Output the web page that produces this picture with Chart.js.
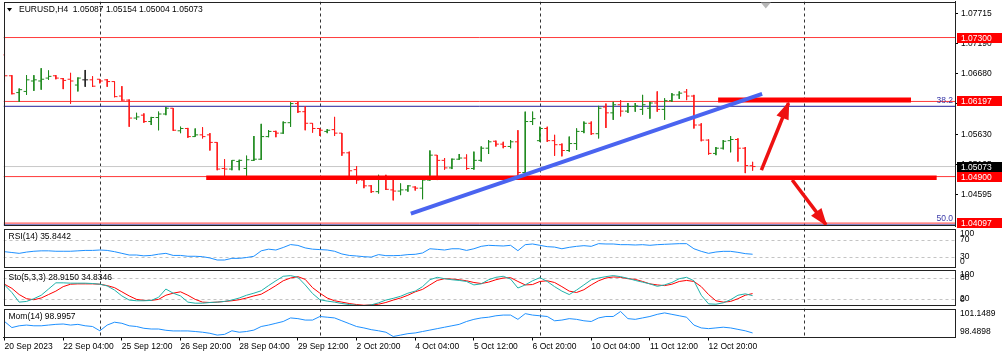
<!DOCTYPE html>
<html>
<head>
<meta charset="utf-8">
<script src="https://cdn.jsdelivr.net/npm/chart.js@4.4.0/dist/chart.umd.min.js"></script>
<style>
  html, body { margin: 0; padding: 0; background: #fff; }
  #wrap { position: relative; width: 1002px; height: 361px; overflow: hidden; background: #fff; }
  canvas { position: absolute; left: 0; }
</style>
</head>
<body>
<div id="wrap">
  <canvas id="mainChart" width="1002" height="229" style="top:0"></canvas>
  <canvas id="rsiChart" width="1002" height="47" style="top:224px"></canvas>
  <canvas id="stoChart" width="1002" height="45" style="top:265px"></canvas>
  <canvas id="momChart" width="1002" height="56" style="top:305px"></canvas>
</div>
<script>
// Dữ liệu nến H4 EURUSD
const opens = [1.0700,1.0664,1.0635,1.0637,1.0655,1.0655,1.0660,1.0664,1.0659,1.0658,
  1.0648,1.0657,1.0657,1.0658,1.0657,1.0654,1.0629,1.0622,1.0591,1.0596,
  1.0585,1.0592,1.0598,1.0608,1.0569,1.0573,1.0559,1.0562,1.0562,1.0549,
  1.0504,1.0503,1.0516,1.0504,1.0518,1.0520,1.0559,1.0568,1.0565,1.0583,
  1.0616,1.0602,1.0582,1.0573,1.0568,1.0571,1.0565,1.0531,1.0502,1.0484,
  1.0474,1.0464,1.0489,1.0467,1.0465,1.0467,1.0472,1.0470,1.0484,1.0527,
  1.0518,1.0505,1.0520,1.0522,1.0504,1.0518,1.0539,1.0551,1.0546,1.0542,
  1.0550,1.0497,1.0585,1.0552,1.0573,1.0552,1.0545,1.0535,1.0547,1.0568,
  1.0582,1.0564,1.0610,1.0600,1.0614,1.0603,1.0611,1.0606,1.0608,1.0617,
  1.0606,1.0621,1.0631,1.0636,1.0629,1.0579,1.0553,1.0530,1.0539,1.0552,
  1.0554,1.0539,1.05087];
const highs = [1.0731,1.0665,1.0642,1.0665,1.0665,1.0677,1.0673,1.0665,1.0660,1.0669,
  1.0661,1.0674,1.0663,1.0658,1.0658,1.0654,1.0646,1.0623,1.0600,1.0599,
  1.0593,1.0602,1.0610,1.0608,1.0576,1.0574,1.0573,1.0575,1.0565,1.0549,
  1.0520,1.0518,1.0519,1.0526,1.0560,1.0581,1.0570,1.0569,1.0585,1.0618,
  1.0619,1.0611,1.0582,1.0573,1.0572,1.0593,1.0565,1.0533,1.0508,1.0487,
  1.0475,1.0493,1.0493,1.0490,1.0478,1.0475,1.0473,1.0486,1.0535,1.0527,
  1.0522,1.0521,1.0529,1.0528,1.0533,1.0542,1.0553,1.0552,1.0550,1.0553,
  1.0570,1.0602,1.0602,1.0576,1.0576,1.0562,1.0547,1.0559,1.0573,1.0585,
  1.0585,1.0612,1.0616,1.0619,1.0622,1.0617,1.0617,1.0631,1.0619,1.0637,
  1.0625,1.0634,1.0637,1.0641,1.0631,1.0582,1.0554,1.0541,1.0553,1.0560,
  1.0556,1.0541,1.05154];
const lows = [1.0652,1.0632,1.0619,1.0631,1.0638,1.0640,1.0657,1.0658,1.0641,1.0616,
  1.0637,1.0645,1.0645,1.0651,1.0645,1.0627,1.0621,1.0576,1.0588,1.0583,
  1.0579,1.0570,1.0596,1.0569,1.0565,1.0557,1.0559,1.0556,1.0535,1.0501,
  1.0491,1.0501,1.0501,1.0491,1.0517,1.0519,1.0558,1.0558,1.0564,1.0576,
  1.0600,1.0570,1.0566,1.0560,1.0565,1.0560,1.0526,1.0490,1.0478,1.0470,
  1.0462,1.0461,1.0467,1.0449,1.0458,1.0464,1.0466,1.0451,1.0483,1.0484,
  1.0502,1.0503,1.0519,1.0502,1.0502,1.0516,1.0529,1.0542,1.0539,1.0539,
  1.0489,1.0490,1.0579,1.0550,1.0550,1.0526,1.0525,1.0533,1.0536,1.0565,
  1.0562,1.0556,1.0574,1.0588,1.0594,1.0600,1.0602,1.0597,1.0590,1.0602,
  1.0588,1.0619,1.0624,1.0622,1.0573,1.0551,1.0528,1.0527,1.0537,1.0532,
  1.0516,1.0496,1.05004];
const closes = [1.0664,1.0633,1.0640,1.0657,1.0657,1.0658,1.0663,1.0660,1.0656,1.0655,
  1.0660,1.0657,1.0646,1.0655,1.0654,1.0628,1.0622,1.0591,1.0593,1.0585,
  1.0592,1.0598,1.0608,1.0570,1.0573,1.0559,1.0562,1.0559,1.0549,1.0503,
  1.0503,1.0518,1.0518,1.0519,1.0520,1.0559,1.0568,1.0565,1.0583,1.0616,
  1.0602,1.0582,1.0573,1.0570,1.0570,1.0565,1.0531,1.0500,1.0484,1.0474,
  1.0464,1.0489,1.0468,1.0465,1.0467,1.0474,1.0470,1.0484,1.0527,1.0518,
  1.0505,1.0520,1.0522,1.0504,1.0518,1.0539,1.0550,1.0546,1.0542,1.0550,
  1.0497,1.0585,1.0590,1.0573,1.0552,1.0545,1.0535,1.0547,1.0568,1.0582,
  1.0564,1.0608,1.0600,1.0614,1.0603,1.0611,1.0612,1.0614,1.0617,1.0606,
  1.0621,1.0631,1.0634,1.0629,1.0579,1.0553,1.0530,1.0539,1.0551,1.0554,
  1.0539,1.0509,1.05073];

// Chỉ báo
const rsiValues = [42,40,38,41,43,44,44,43,43,43, 44,45,45,46,45,42,38,34,34,32,
  33,36,38,33,33,31,31,30,27,22, 22,26,26,28,31,44,48,46,52,59,
  57,51,48,47,46,43,36.5,33,31.7,30, 29,35,32.5,32.5,33,35,35.7,38.9,49,47.6,
  46,49,49,45,49,54.8,57.2,56.4,55.6,57.2, 44.4,58.8,60.4,57.2,54,53,49,52.4,54.8,56.4,
  54.8,61.2,60.4,60.4,58.8,58.8,58,58.8,57.2,58.8, 59.6,60.4,61.2,61.2,49,42.8,38,41.2,42.8,42.8,
  40.4,37.3,35.84];
const stoMain = [60,38,10,12,20,30,48,66,66,65, 65,65,64,62,57,45,28,16,14,14,
  15,24,48,36,28,10,7,7,9,10, 12,16,22,30,36,43,58,72,85,87,
  82,60,35,17,13,10,6,3,1,0, 2,8,16,21,27,36,42,55,75,82,
  78,75,73,70,60,63,75,82,85,77, 51,60,72,81,70,55,42,32,45,60,
  75,80,84,87,84,79,73,68,63,56, 60,67,78,82,72,30,5,4,8,17,
  30,34,28.915];
const stoSignal = [62,50,32,20,17,22,32,42,55,62, 63,63,63,62,58,52,40,28,18,15,
  15,18,30,36,40,30,18,10,9,10, 12,14,17,22,28,33,45,58,72,80,
  84,76,52,36,22,14,10,6,3,1, 2,4,9,16,22,30,40,47,60,73,
  78,77,75,72,67,64,68,75,80,81, 70,60,61,70,72,67,55,42,38,46,
  60,72,80,83,82,78,76,70,63,60, 58,62,70,73,70,55,32,14,10,12,
  20,30,34.835];
const momValues = [100.1,99.25,99.5,99.6,99.5,99.5,99.6,99.7,99.75,99.6, 99.7,99.5,99.4,98.8,99.6,100.0,99.85,99.5,99.4,99.15,
  99.05,99.05,98.87,98.78,98.78,98.78,98.7,98.6,98.45,98.2, 98.3,98.8,98.6,98.7,98.9,99.4,99.6,99.85,100.1,100.6,
  100.5,100.3,100.3,100.8,100.7,100.6,100.2,99.8,99.4,99.2, 98.96,98.8,98.6,98.0,98.2,98.4,98.5,98.7,98.9,99.1,
  99.3,99.5,99.7,100.1,100.4,100.6,100.7,100.9,101.0,101.0, 100.4,101.2,101.0,100.9,100.8,100.2,100.3,100.5,100.4,100.2,
  100.1,100.6,100.8,100.8,101.5,100.5,100.4,100.6,100.8,101.1, 101.3,101.1,100.9,100.7,99.6,99.2,99.1,99.2,99.3,99.2,
  99.0,98.8,98.5];

// Trục thời gian
const dateLabels = ['20 Sep 2023','22 Sep 04:00','25 Sep 12:00','26 Sep 20:00','28 Sep 04:00','29 Sep 12:00',
  '2 Oct 20:00','4 Oct 04:00','5 Oct 12:00','6 Oct 20:00','10 Oct 04:00','11 Oct 12:00','12 Oct 20:00'];
const dateLabelBars = [0,8,16,24,32,40,48,56,64,72,80,88,96];
const separatorBars = [13, 43, 73, 109];
const priceTicks = [1.07715, 1.07190, 1.06680, 1.06155, 1.05630, 1.05105, 1.04595];

// Đường kẻ trên biểu đồ
const redLevels = [1.07300, 1.06197, 1.04900, 1.04097];
const fibLevels = [1.06113, 1.04065];
const fibNames = ['38.2', '50.0'];
const bidPrice = 1.05073;
const trendX = [55.4, 103.3], trendY = [1.04259, 1.06326];
const supportX = [27.5, 127.1], supportY = [1.0488, 1.0488];
const resistX = [97.3, 123.6], resistY = [1.06222, 1.06222];
const arrowUpX = [103.2, 106.9], arrowUpY = [1.0501, 1.0617];
const arrowDownX = [107.4, 112.0], arrowDownY = [1.0484, 1.0407];

const X_MIN = -0.14, X_MAX = 129.6;
const TICK = 0.4;
const FONT = '8.5px "Liberation Sans", Arial, sans-serif';
const RIGHT_W = 47;

const barColors = opens.map((o, i) => closes[i] > o ? '#1f8a1f' : (closes[i] < o ? '#ff1a1a' : '#222'));

const barPoints = [];
opens.forEach((o, i) => {
  barPoints.push({x: i - TICK, y: o}, {x: i, y: o}, {x: i, y: null},
    {x: i, y: highs[i]}, {x: i, y: lows[i]}, {x: i, y: null},
    {x: i, y: closes[i]}, {x: i + TICK, y: closes[i]}, {x: i, y: null});
});

function seg(xs, ys) {
  return xs.map((x, i) => ({x: x, y: ys[i]}));
}
function hline(v) {
  return [{x: X_MIN, y: v}, {x: X_MAX, y: v}];
}
function series(vals) {
  return vals.map((v, i) => ({x: i, y: v}));
}

// Plugin khung, đường phân cách tuần, nhãn
function panelDecor(cfg) {
  return {
    id: 'panelDecor',
    beforeDatasetsDraw(chart) {
      const { ctx, chartArea: a, scales } = chart;
      ctx.save();
      ctx.beginPath();
      ctx.rect(a.left, a.top, a.right - a.left, a.bottom - a.top);
      ctx.clip();
      ctx.lineWidth = 1;
      ctx.setLineDash([3, 3]);
      ctx.strokeStyle = '#c4c4c4';
      (cfg.levels || []).forEach(v => {
        const py = Math.round(scales.y.getPixelForValue(v)) + 0.5;
        ctx.beginPath(); ctx.moveTo(a.left, py); ctx.lineTo(a.right, py); ctx.stroke();
      });
      ctx.strokeStyle = '#333';
      separatorBars.forEach(b => {
        const px = Math.round(scales.x.getPixelForValue(b)) + 0.5;
        ctx.beginPath(); ctx.moveTo(px, a.top); ctx.lineTo(px, a.bottom); ctx.stroke();
      });
      ctx.restore();
    },
    afterDraw(chart) {
      const { ctx, chartArea: a, scales } = chart;
      ctx.save();
      ctx.strokeStyle = '#222';
      ctx.lineWidth = 1;
      ctx.strokeRect(Math.round(a.left) + 0.5, Math.round(a.top) + 0.5,
        Math.round(a.right) - Math.round(a.left), Math.round(a.bottom) - Math.round(a.top) - 1);
      ctx.font = FONT;
      ctx.fillStyle = '#000';
      ctx.textBaseline = 'middle';
      if (cfg.title) ctx.fillText(cfg.title, a.left + 5, a.top + 8);
      (cfg.sideLabels || []).forEach(lb => {
        let py = scales.y.getPixelForValue(lb.v);
        py = Math.max(a.top + 5, Math.min(a.bottom - 6, py));
        ctx.fillText(lb.t, a.right + 5, py);
      });
      ctx.restore();
    }
  };
}

// Plugin riêng cho khung giá: tiêu đề, nhãn giá, mũi tên
const mainDecor = {
  id: 'mainDecor',
  afterDatasetsDraw(chart) {
    const { ctx } = chart;
    ctx.save();
    chart.data.datasets.forEach((ds, di) => {
      if (!ds.arrowHead) return;
      const pts = chart.getDatasetMeta(di).data;
      const p0 = pts[0], p1 = pts[1];
      const ang = Math.atan2(p1.y - p0.y, p1.x - p0.x);
      const L = 16, W = 6.5;
      const c = Math.cos(ang), s = Math.sin(ang);
      ctx.fillStyle = ds.borderColor;
      ctx.beginPath();
      ctx.moveTo(p1.x + 2 * c, p1.y + 2 * s);
      ctx.lineTo(p1.x - L * c + W * s, p1.y - L * s - W * c);
      ctx.lineTo(p1.x - L * c - W * s, p1.y - L * s + W * c);
      ctx.closePath();
      ctx.fill();
    });
    ctx.restore();
  },
  afterDraw(chart) {
    const { ctx, chartArea: a, scales: { x, y } } = chart;
    ctx.save();
    ctx.font = FONT;
    ctx.textBaseline = 'middle';
    // tiêu đề
    ctx.fillStyle = '#000';
    ctx.beginPath();
    ctx.moveTo(a.left + 3.5, a.top + 6.5); ctx.lineTo(a.left + 8.5, a.top + 6.5); ctx.lineTo(a.left + 6, a.top + 10);
    ctx.closePath(); ctx.fill();
    ctx.fillText('EURUSD,H4  1.05087 1.05154 1.05004 1.05073', a.left + 15.5, a.top + 8.5);
    // nhãn fibo
    ctx.fillStyle = '#3a3aa8';
    ctx.textAlign = 'right';
    fibLevels.forEach((v, i) => {
      ctx.fillText(fibNames[i], a.right - 2, y.getPixelForValue(v) - 6);
    });
    ctx.textAlign = 'left';
    // dấu dịch biểu đồ
    const sx = x.getPixelForValue(103.8);
    ctx.fillStyle = '#b8b8b8';
    ctx.beginPath();
    ctx.moveTo(sx - 5, a.top + 1); ctx.lineTo(sx + 5, a.top + 1); ctx.lineTo(sx, a.top + 7);
    ctx.closePath(); ctx.fill();
    // nhãn giá
    const tag = (v, bg) => {
      const py = Math.round(y.getPixelForValue(v));
      ctx.fillStyle = bg;
      ctx.fillRect(a.right + 2, py - 5, chart.width - a.right - 2, 10);
      ctx.fillStyle = '#fff';
      ctx.fillText(v.toFixed(5), a.right + 6, py + 0.5);
    };
    redLevels.forEach(v => tag(v, '#f00'));
    tag(bidPrice, '#000');
    ctx.restore();
  }
};

const baseOpts = (extra) => Object.assign({
  responsive: false,
  animation: false,
  devicePixelRatio: 1,
  events: [],
  plugins: { legend: { display: false }, tooltip: { enabled: false } },
  elements: { point: { radius: 0 }, line: { tension: 0, borderWidth: 1 } }
}, extra);

const xHidden = { type: 'linear', min: X_MIN, max: X_MAX, display: false };

new Chart(document.getElementById('mainChart'), {
  type: 'line',
  data: {
    datasets: [
      { data: seg(trendX, trendY), borderColor: '#4a64f0', borderWidth: 4, order: 0 },
      { data: seg(arrowUpX, arrowUpY), borderColor: '#ee1111', borderWidth: 3.5, arrowHead: true, clip: false, order: 0 },
      { data: seg(arrowDownX, arrowDownY), borderColor: '#ee1111', borderWidth: 3.5, arrowHead: true, clip: false, order: 0 },
      { data: seg(supportX, supportY), borderColor: '#f00', borderWidth: 4.5, order: 1 },
      { data: seg(resistX, resistY), borderColor: '#f00', borderWidth: 5, order: 1 },
      { data: barPoints, borderColor: '#ff1a1a', spanGaps: false, order: 5,
        segment: { borderColor: c => barColors[Math.floor(c.p0DataIndex / 9)] } },
      ...redLevels.map(v => ({ data: hline(v), borderColor: '#ff3a3a', order: 8 })),
      ...fibLevels.map(v => ({ data: hline(v), borderColor: '#23239a', order: 8 })),
      { data: hline(bidPrice), borderColor: '#c8c8c8', order: 9 }
    ]
  },
  options: baseOpts({
    layout: { padding: { left: 3.5, top: 1.5, bottom: 3, right: 0 } },
    scales: {
      x: xHidden,
      y: {
        position: 'right', min: 1.04047, max: 1.07922,
        afterFit(s) { s.width = RIGHT_W; s.paddingTop = 0; s.paddingBottom = 0; },
        afterBuildTicks(s) { s.ticks = priceTicks.map(v => ({ value: v })); },
        ticks: { callback: v => Number(v).toFixed(5), color: '#000', padding: 3,
          font: { family: '"Liberation Sans", Arial, sans-serif', size: 8.5 } },
        grid: { drawOnChartArea: false, tickLength: 3, color: '#000' },
        border: { color: '#222' }
      }
    }
  }),
  plugins: [panelDecor({}), mainDecor]
});

new Chart(document.getElementById('rsiChart'), {
  type: 'line',
  data: { datasets: [{ data: series(rsiValues), borderColor: '#1e90ff' }] },
  options: baseOpts({
    layout: { padding: { left: 3.5, top: 4.5, bottom: 3.5, right: RIGHT_W } },
    scales: { x: xHidden, y: { display: false, min: 4.1, max: 97.5 } }
  }),
  plugins: [panelDecor({ title: 'RSI(14) 35.8442', levels: [70, 30],
    sideLabels: [{v: 100, t: '100'}, {v: 70, t: '70'}, {v: 30, t: '30'}, {v: 0, t: '0'}] })]
});

new Chart(document.getElementById('stoChart'), {
  type: 'line',
  data: { datasets: [
    { data: series(stoMain), borderColor: '#20b2aa' },
    { data: series(stoSignal), borderColor: '#ff0000' }
  ] },
  options: baseOpts({
    layout: { padding: { left: 3.5, top: 4.5, bottom: 4, right: RIGHT_W } },
    scales: { x: xHidden, y: { display: false, min: -1.2, max: 104.7 } }
  }),
  plugins: [panelDecor({ title: 'Sto(5,3,3) 28.9150 34.8346', levels: [80, 20],
    sideLabels: [{v: 100, t: '100'}, {v: 80, t: '80'}, {v: 20, t: '20'}, {v: 0, t: '0'}] })]
});

new Chart(document.getElementById('momChart'), {
  type: 'line',
  data: { datasets: [{ data: series(momValues), borderColor: '#1e90ff' }] },
  options: baseOpts({
    layout: { padding: { left: 3.5, top: 3.5, bottom: 0, right: RIGHT_W } },
    scales: {
      x: {
        type: 'linear', min: X_MIN, max: X_MAX, position: 'bottom',
        afterFit(s) { s.height = 23.5; s.paddingLeft = 0; s.paddingRight = 0; },
        afterBuildTicks(s) { s.ticks = dateLabelBars.map(v => ({ value: v })); },
        ticks: {
          callback: (v) => dateLabels[dateLabelBars.indexOf(v)],
          align: 'start', maxRotation: 0, autoSkip: false, padding: 1, color: '#000',
          font: { family: '"Liberation Sans", Arial, sans-serif', size: 8.5 }
        },
        grid: { drawOnChartArea: false, tickLength: 3, color: '#000' },
        border: { color: '#222' }
      },
      y: { display: false, min: 97.862, max: 101.918 }
    }
  }),
  plugins: [panelDecor({ title: 'Mom(14) 98.9957',
    sideLabels: [{v: 101.1489, t: '101.1489'}, {v: 98.4898, t: '98.4898'}] })]
});
</script>
</body>
</html>
